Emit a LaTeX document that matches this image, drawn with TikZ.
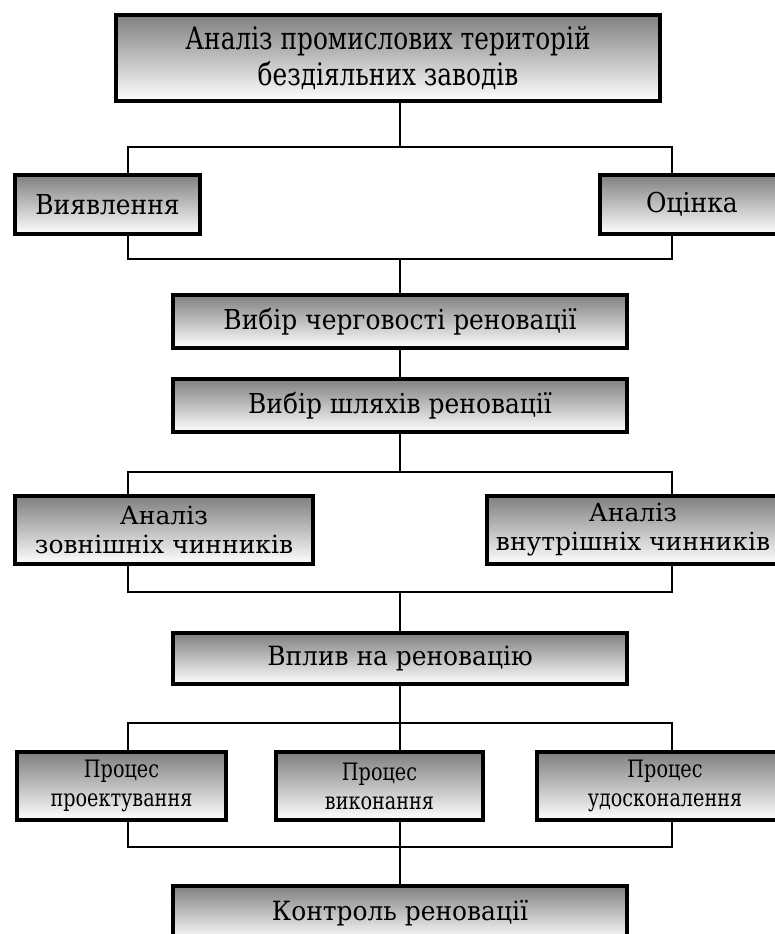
\documentclass[tikz,border=0pt]{standalone}
\usepackage{fontspec}
\setmainfont{DejaVu Serif}
\newfontfamily\vuzkyi{DejaVu Serif}[FakeStretch=0.8]
\newfontfamily\vuzkyii{DejaVu Serif}[FakeStretch=0.91]
\newfontfamily\vuzkyiii{DejaVu Serif}[FakeStretch=0.8]
\newfontfamily\vuzkyiv{DejaVu Serif}[FakeStretch=0.94]
\begin{document}
\begin{tikzpicture}[x=1pt,y=-1pt,
    blok/.style={draw, line width=3.8pt, top color=black!50, bottom color=white, inner sep=0pt, align=center},
    zv/.style={line width=1.4pt}]
  \useasboundingbox (0,0) rectangle (775,934);
  \clip (0,0) rectangle (775,934);

  \node[blok, minimum width=544pt, minimum height=86pt, font=\vuzkyi\fontsize{31}{36}\selectfont] (analiz) at (388,58) {Аналіз промислових територій\\бездіяльних заводів};
  \node[blok, minimum width=185pt, minimum height=59pt, font=\vuzkyii\fontsize{27.4}{30}\selectfont] (vyyav) at (107.5,204.5) {Виявлення};
  \node[blok, minimum width=184pt, minimum height=59pt, font=\vuzkyii\fontsize{27.4}{30}\selectfont] (otsinka) at (692,204.5) {Оцінка};
  \node[blok, minimum width=454pt, minimum height=53pt, font=\vuzkyii\fontsize{27.4}{30}\selectfont] (cherg) at (400,321.5) {Вибір черговості реновації};
  \node[blok, minimum width=454pt, minimum height=53pt, font=\vuzkyii\fontsize{27.4}{30}\selectfont] (shlyakh) at (400,405.5) {Вибір шляхів реновації};
  \node[blok, minimum width=298pt, minimum height=68pt, font=\fontsize{25}{29}\selectfont] (zovn) at (164,530) {Аналіз\\зовнішніх чинників};
  \node[blok, minimum width=292pt, minimum height=68pt, font=\fontsize{25}{29}\selectfont] (vnutr) at (633,530) {Аналіз\\внутрішніх чинників};
  \node[blok, minimum width=454pt, minimum height=51pt, font=\vuzkyiv\fontsize{26.5}{30}\selectfont] (vplyv) at (400,658.5) {Вплив на реновацію};
  \node[blok, minimum width=209pt, minimum height=68pt, font=\vuzkyiii\fontsize{24}{29}\selectfont] (proekt) at (121.5,786) {Процес\\проектування};
  \node[blok, minimum width=207pt, minimum height=68pt, font=\vuzkyiii\fontsize{24}{29}\selectfont] (vykon) at (379.5,786) {Процес\\виконання};
  \node[blok, minimum width=256pt, minimum height=68pt, font=\vuzkyiii\fontsize{24}{29}\selectfont] (udosk) at (665,786) {Процес\\удосконалення};
  \node[blok, minimum width=454pt, minimum height=54pt, font=\vuzkyiv\fontsize{26.5}{30}\selectfont] (kontrol) at (400,913) {Контроль реновації};

  \coordinate (k1) at (400,147); \coordinate (k1l) at (128,147); \coordinate (k1r) at (672,147);
  \coordinate (k2) at (400,259); \coordinate (k2l) at (128,259); \coordinate (k2r) at (672,259);
  \coordinate (k3) at (400,472); \coordinate (k3l) at (128,472); \coordinate (k3r) at (672,472);
  \coordinate (k4) at (400,592); \coordinate (k4l) at (128,592); \coordinate (k4r) at (672,592);
  \coordinate (k5) at (400,723); \coordinate (k5l) at (128,723); \coordinate (k5r) at (672,723);
  \coordinate (k6) at (400,847); \coordinate (k6l) at (128,847); \coordinate (k6r) at (672,847);

  \draw[zv] (analiz.south -| k1) -- (k1);
  \draw[zv] (vyyav.north -| k1l) -- (k1l) -- (k1r) -- (otsinka.north -| k1r);
  \draw[zv] (vyyav.south -| k2l) -- (k2l) -- (k2r) -- (otsinka.south -| k2r);
  \draw[zv] (k2) -- (cherg.north);
  \draw[zv] (cherg.south) -- (shlyakh.north);
  \draw[zv] (shlyakh.south) -- (k3);
  \draw[zv] (zovn.north -| k3l) -- (k3l) -- (k3r) -- (vnutr.north -| k3r);
  \draw[zv] (zovn.south -| k4l) -- (k4l) -- (k4r) -- (vnutr.south -| k4r);
  \draw[zv] (k4) -- (vplyv.north);
  \draw[zv] (vplyv.south) -- (k5);
  \draw[zv] (proekt.north -| k5l) -- (k5l) -- (k5r) -- (udosk.north -| k5r);
  \draw[zv] (k5) -- (vykon.north -| k5);
  \draw[zv] (proekt.south -| k6l) -- (k6l) -- (k6r) -- (udosk.south -| k6r);
  \draw[zv] (vykon.south -| k6) -- (k6);
  \draw[zv] (k6) -- (kontrol.north);
\end{tikzpicture}
\end{document}
